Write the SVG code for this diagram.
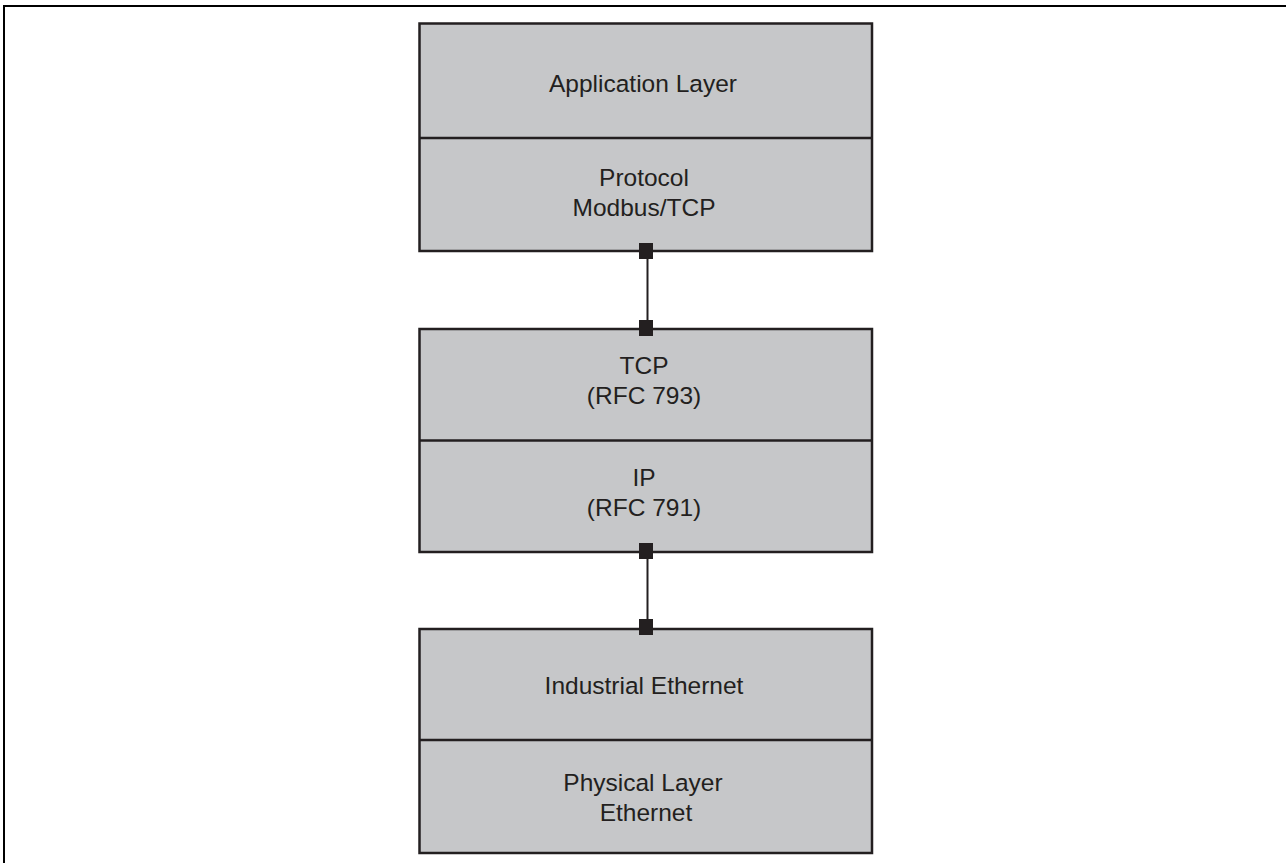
<svg xmlns="http://www.w3.org/2000/svg" width="1286" height="863" viewBox="0 0 1286 863">
<style>
.box{fill:#c6c7c9;stroke:#231f20;stroke-width:2.5}
.div{stroke:#231f20;stroke-width:2.5}
.t{font-family:"Liberation Sans",Arial,sans-serif;font-size:24.5px;fill:#231f20;text-anchor:middle}
.frame{stroke:#000;stroke-width:2;fill:none}
.conn{stroke:#231f20;stroke-width:2}
.sq{fill:#231f20}
</style>
<rect width="1286" height="863" fill="#fff"/>
<path class="frame" d="M4,863 V6 H1286"/>
<g id="stack1">
<rect class="box" x="419.5" y="23.5" width="452.5" height="227.5"/>
<line class="div" x1="419.5" y1="138" x2="872" y2="138"/>
<text class="t" x="643" y="92">Application Layer</text>
<text class="t" x="644" y="186">Protocol</text>
<text class="t" x="644" y="216">Modbus/TCP</text>
</g>
<g id="stack2">
<rect class="box" x="419.5" y="329" width="452.5" height="223"/>
<line class="div" x1="419.5" y1="440.5" x2="872" y2="440.5"/>
<text class="t" x="644" y="374">TCP</text>
<text class="t" x="644" y="404">(RFC 793)</text>
<text class="t" x="644" y="486">IP</text>
<text class="t" x="644" y="516">(RFC 791)</text>
</g>
<g id="stack3">
<rect class="box" x="419.5" y="629" width="452.5" height="224"/>
<line class="div" x1="419.5" y1="740" x2="872" y2="740"/>
<text class="t" x="644" y="694">Industrial Ethernet</text>
<text class="t" x="643" y="791">Physical Layer</text>
<text class="t" x="646" y="821">Ethernet</text>
</g>
<g id="connectors">
<line class="conn" x1="647.5" y1="251" x2="647.5" y2="329"/>
<rect class="sq" x="639" y="243" width="14" height="16"/>
<rect class="sq" x="639" y="320" width="14" height="16"/>
<line class="conn" x1="647.5" y1="552" x2="647.5" y2="629"/>
<rect class="sq" x="639" y="543" width="14" height="16"/>
<rect class="sq" x="639" y="619" width="14" height="16"/>
</g>
</svg>
